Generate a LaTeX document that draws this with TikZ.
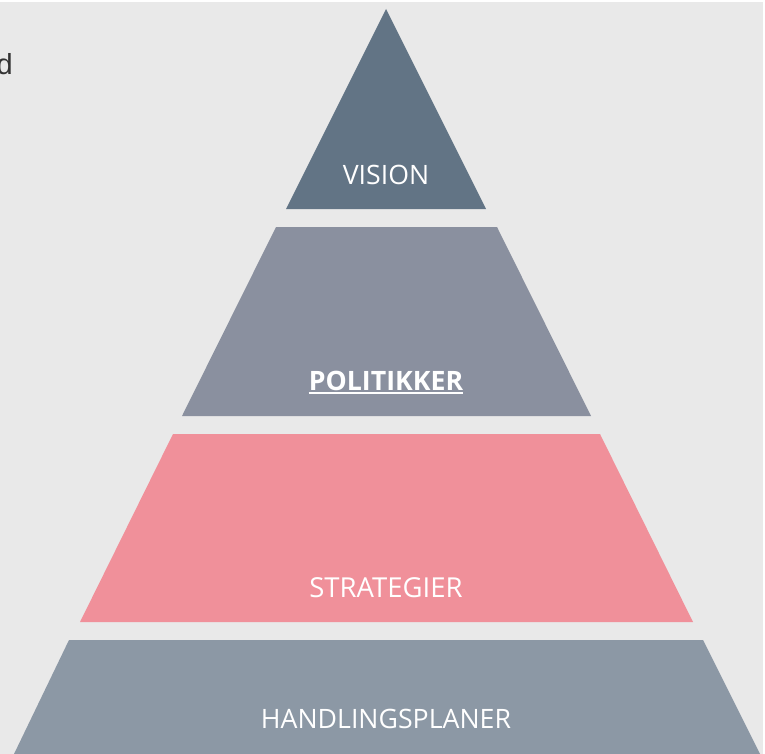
\documentclass[tikz,border=0pt]{standalone}
\usepackage{fontspec}
\setmainfont{Open Sans}
\newfontfamily\dfont{Liberation Sans}
\definecolor{bg}{HTML}{E9E9E9}
\definecolor{cvision}{HTML}{627485}
\definecolor{cpol}{HTML}{8A909F}
\definecolor{cstrat}{HTML}{F0909A}
\definecolor{chand}{HTML}{8C98A5}
\definecolor{ctext}{HTML}{333333}
\tikzset{
  level/.style={draw=none},
  lbl/.style={text=white, font=\fontsize{26.7}{26.7}\selectfont, anchor=base, inner sep=0pt},
}
\begin{document}
\begin{tikzpicture}[x=1pt,y=-1pt]
\useasboundingbox (0,0) rectangle (765,754);
\fill[white] (0,0) rectangle (765,754);
\fill[bg] (0,2) rectangle (763,754);
% left text fragment (cut off at the edge, as in the reference)
\node[anchor=base east, inner sep=0pt, text=ctext, font=\dfont\fontsize{29}{29}\selectfont] (d) at (13,75) {d};
% levels
\fill[level, cvision] (386,9) -- (486,209) -- (286,209) -- cycle;
\fill[level, cpol] (276,227) -- (497,227) -- (591,416) -- (182,416) -- cycle;
\fill[level, cstrat] (173,434) -- (600,434) -- (693,622) -- (80,622) -- cycle;
\fill[level, chand] (69,640) -- (703,640) -- (760,754) -- (14,754) -- cycle;
% labels
\node[lbl] (vision) at (386,185) {VISION};
\node[lbl, font=\bfseries\fontsize{26.7}{26.7}\selectfont] (pol) at (386,390) {POLITIKKER};
\draw[white, line width=1.7pt] (pol.base west) ++(0,3.2) -- ([yshift=-3.2pt]pol.base east);
\node[lbl, font=\fontsize{27.5}{27.5}\selectfont] (strat) at (386,597) {STRATEGIER};
\node[lbl] (hand) at (386,728) {HANDLINGSPLANER};
\end{tikzpicture}
\end{document}
